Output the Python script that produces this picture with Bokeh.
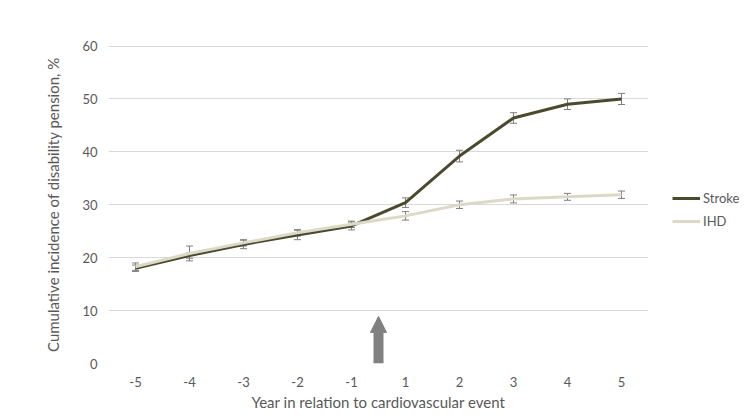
from bokeh.plotting import figure
from bokeh.models import (ColumnDataSource, Whisker, TeeHead, Legend, LegendItem,
                          Arrow, NormalHead, FixedTicker, Range1d)
from bokeh.embed import file_html
from bokeh.resources import INLINE

years = ["-5", "-4", "-3", "-2", "-1", "1", "2", "3", "4", "5"]
stroke = [18.0, 20.4, 22.5, 24.3, 26.0, 30.4, 39.2, 46.4, 49.0, 50.0]
stroke_err = [0.6, 0.5, 0.8, 0.9, 0.75, 0.9, 1.1, 1.0, 1.0, 1.05]
ihd = [18.3, 20.8, 22.8, 24.7, 26.3, 27.9, 30.0, 31.1, 31.5, 31.9]
ihd_err = [0.7, 1.4, 0.6, 0.6, 0.6, 0.8, 0.7, 0.75, 0.65, 0.7]
event_after = "-1"          # cardiovascular event occurs between year -1 and year 1
arrow_top = 8.9
y_ticks = [0, 10, 20, 30, 40, 50, 60]

FONT = "Lato"
TEXT = "#595959"
C_STROKE = "#4b4a2f"
C_IHD = "#dcd9c6"
C_ERR = "#7f7f7f"

xs = list(range(len(years)))

p = figure(width=741, height=412, output_backend="svg", toolbar_location=None,
           x_range=Range1d(-0.5, len(years) - 0.5), y_range=Range1d(0, 60.1),
           min_border_left=108, min_border_right=93, min_border_top=45, min_border_bottom=49)
p.frame_width = 540
p.frame_height = 318
p.outline_line_color = None
p.background_fill_color = "white"
p.border_fill_color = "white"

# axes
p.xaxis.ticker = FixedTicker(ticks=xs)
p.xaxis.major_label_overrides = {i: y for i, y in enumerate(years)}
p.yaxis.ticker = FixedTicker(ticks=y_ticks)
for ax in (p.xaxis[0], p.yaxis[0]):
    ax.axis_line_color = None
    ax.major_tick_line_color = None
    ax.minor_tick_line_color = None
    ax.major_label_text_font = FONT
    ax.major_label_text_color = TEXT
    ax.major_label_text_font_size = "13px"
    ax.axis_label_text_font = FONT
    ax.axis_label_text_color = TEXT
    ax.axis_label_text_font_size = "15px"
    ax.axis_label_text_font_style = "normal"
p.xaxis.axis_label = "Year in relation to cardiovascular event"
p.yaxis.axis_label = "Cumulative incidence of disability pension, %"
p.xaxis.major_label_standoff = 7
p.xaxis.axis_label_standoff = 3
p.yaxis.major_label_standoff = 5
p.yaxis.axis_label_standoff = 17
p.xgrid.grid_line_color = None
p.ygrid.grid_line_color = "#d9d9d9"
p.ygrid.grid_line_width = 1

src = ColumnDataSource(dict(
    x=xs, stroke=stroke, ihd=ihd,
    s_lo=[v - e for v, e in zip(stroke, stroke_err)],
    s_hi=[v + e for v, e in zip(stroke, stroke_err)],
    i_lo=[v - e for v, e in zip(ihd, ihd_err)],
    i_hi=[v + e for v, e in zip(ihd, ihd_err)],
))

r_stroke = p.line("x", "stroke", source=src, line_color=C_STROKE, line_width=3)
r_ihd = p.line("x", "ihd", source=src, line_color=C_IHD, line_width=3)

for lo, hi in (("s_lo", "s_hi"), ("i_lo", "i_hi")):
    w = Whisker(source=src, base="x", lower=lo, upper=hi, line_color=C_ERR, line_width=1,
                upper_head=TeeHead(size=7, line_color=C_ERR, line_width=1),
                lower_head=TeeHead(size=7, line_color=C_ERR, line_width=1))
    p.add_layout(w)

# event arrow
ex = years.index(event_after) + 0.5
p.add_layout(Arrow(x_start=ex, y_start=0, x_end=ex, y_end=arrow_top,
                   line_color="#808080", line_width=10,
                   end=NormalHead(size=16, fill_color="#808080", line_color="#808080", line_width=1)))

legend = Legend(items=[LegendItem(label="Stroke", renderers=[r_stroke]),
                       LegendItem(label="IHD", renderers=[r_ihd])],
                location=(24, 132), padding=0, margin=0, spacing=3,
                glyph_width=28, label_text_font=FONT, label_text_color=TEXT,
                label_text_font_size="13px", border_line_color=None,
                background_fill_alpha=0, label_standoff=3)
p.add_layout(legend, "right")

open("out.html", "w").write(file_html(p, INLINE))
